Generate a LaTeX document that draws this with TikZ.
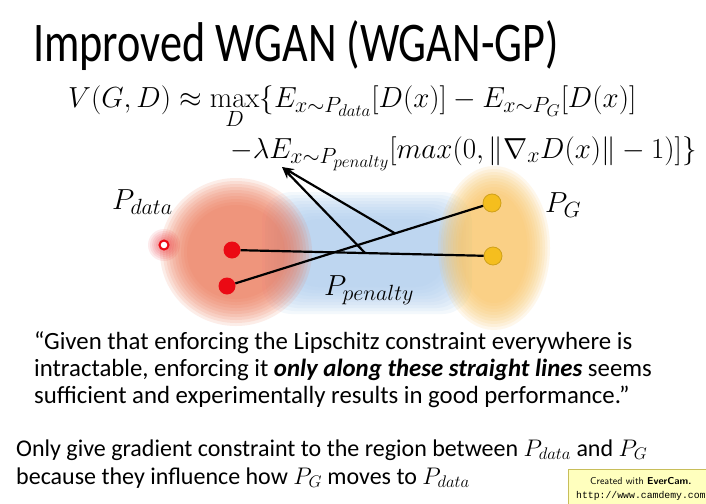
\RequirePackage{fix-cm}
\documentclass[tikz,border=0pt]{standalone}
\usepackage{amsmath,amssymb}
\usepackage[no-math]{fontspec}
\setmainfont{Carlito}
\setmonofont{Liberation Mono}
\usetikzlibrary{arrows.meta,positioning}
\DeclareMathSizes{29}{29}{22}{17}
\definecolor{blobred}{RGB}{238,116,84}
\definecolor{blobblue}{RGB}{175,206,240}
\definecolor{blobgold}{RGB}{250,194,92}
\definecolor{dotred}{RGB}{235,10,20}
\definecolor{dotgold}{RGB}{245,190,30}
\definecolor{notefill}{RGB}{255,255,190}
\definecolor{noteline}{RGB}{200,190,90}

\begin{document}
\begin{tikzpicture}[
    x=1pt, y=-1pt,
    reddot/.style={circle, fill=dotred, inner sep=0pt, minimum size=17pt},
    golddot/.style={circle, fill=dotgold, draw=dotgold!85!black, line width=0.8pt, inner sep=0pt, minimum size=18pt},
    seg/.style={line width=2.2pt, black},
    pointer/.style={seg, -{Stealth[length=12pt,width=9pt]}},
    lbl/.style={font=\fontsize{29}{34}\selectfont, inner sep=0pt, anchor=base west},
    body/.style={anchor=base west, inner sep=0pt, font=\fontsize{24.8}{28}\selectfont},
    eqn/.style={anchor=base west, inner sep=0pt, font=\fontsize{29}{34}\selectfont}
]
\useasboundingbox (0,0) rectangle (706,503);
\fill[white] (0,0) rectangle (706,503);

% Titel
\node[anchor=base west, inner sep=0pt, font=\fontsize{56}{64}\selectfont] (title) at (33,61) {\scalebox{0.79}[1]{Improved WGAN (WGAN-GP)}};

% Zielfunktion
\node[eqn] (eqA) at (68,107) {$V(G,D) \approx \max\limits_D\{E_{x\sim P_{data}}[D(x)] - E_{x\sim P_G}[D(x)]$};
\node[eqn] (eqB) at (230,158) {$-\lambda E_{x\sim P_{penalty}}[max(0,\|\nabla_x D(x)\| - 1)]\}$};

% Verteilungen (weiche Raender)
\foreach \i in {0,...,9} {
    \fill[blobblue, opacity=.14, rounded corners=30pt] (262+3*\i,192+3*\i) rectangle (472-3*\i,314-3*\i);
}
\foreach \i in {0,...,9} {
    \fill[blobred, opacity=.13] (236,252) ellipse [x radius=76-3*\i, y radius=74-3*\i];
}
\foreach \i in {0,...,9} {
    \fill[blobgold, opacity=.12] (494,248) ellipse [x radius=56-2.5*\i, y radius=82-3*\i];
}
\foreach \i in {0,...,5} {
    \fill[dotred, opacity=.08] (164,245) circle [radius=16-2*\i];
}

% Punkte
\node[circle, draw=dotred, fill=white, line width=2pt, inner sep=0pt, minimum size=9pt] (ring) at (164,245) {};
\node[reddot] (r1) at (232,250) {};
\node[reddot] (r2) at (227,286) {};
\node[golddot] (g1) at (492,203) {};
\node[golddot] (g2) at (493,256) {};

\node[lbl] (pdata) at (112,209) {$P_{data}$};
\node[lbl] (pg) at (545,212) {$P_G$};
\node[lbl] (ppen) at (324,295) {$P_{penalty}$};

% Geraden zwischen den Verteilungen
\draw[seg] (r1) -- (g2);
\draw[seg] (r2) -- (g1);
\path (r1.center) -- (g2.center) coordinate[pos=.51] (m1);
\path (r2.center) -- (g1.center) coordinate[pos=.634] (m2);
\coordinate (tip) at (282,167);
\draw[pointer] (m1) -- (tip);
\draw[pointer] (m2) -- (tip);

% Zitat
\node[body] (q1) at (34,349) {``Given that enforcing the Lipschitz constraint everywhere is};
\node[body] (q2) at (34,376) {intractable, enforcing it \textbf{\textit{only along these straight lines}} seems};
\node[body] (q3) at (34,403) {sufficient and experimentally results in good performance.''};

% Fazit
\node[body, font=\fontsize{24}{28}\selectfont] (c1) at (16,456) {Only give gradient constraint to the region between $P_{data}$ and $P_G$};
\node[body, font=\fontsize{24}{28}\selectfont] (c2) at (16,484) {because they influence how $P_G$ moves to $P_{data}$};

% Stempel
\draw[noteline, fill=notefill, line width=1pt] (568,469) rectangle (712,510);
\node[anchor=base west, inner sep=0pt, font=\fontsize{10}{12}\selectfont\sffamily] (stamp1) at (590,484) {Created with \textbf{EverCam.}};
\node[anchor=base west, inner sep=0pt, font=\fontsize{9.8}{12}\selectfont\ttfamily] (stamp2) at (576,498) {http://www.camdemy.com};
\end{tikzpicture}
\end{document}
